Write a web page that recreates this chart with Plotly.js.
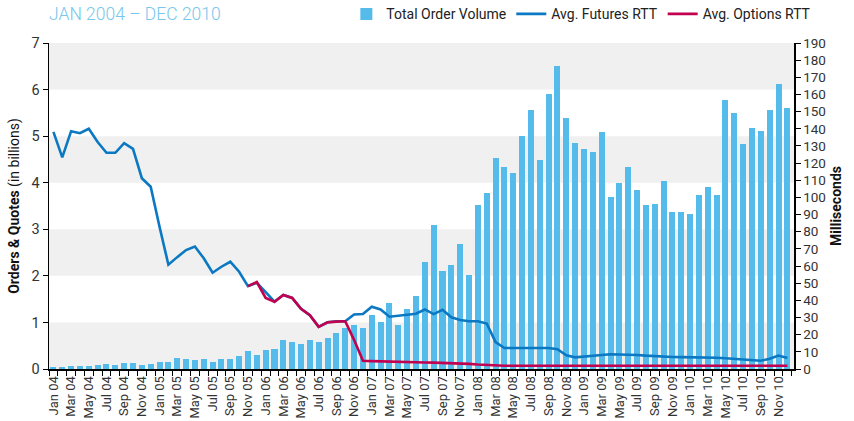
<!DOCTYPE html>
<html>
<head>
<meta charset="utf-8">
<script src="https://cdn.plot.ly/plotly-3.0.1.min.js"></script>
<style>html,body{margin:0;padding:0;background:#fff;}#chart{width:854px;height:421px;}</style>
</head>
<body>
<div id="chart"></div>
<script>
const months = ['Jan','Feb','Mar','Apr','May','Jun','Jul','Aug','Sep','Oct','Nov','Dec'];
const years = ['04','05','06','07','08','09','10'];
const monthLabels = [];
years.forEach(y => months.forEach(m => monthLabels.push(m + ' ' + y)));

const orderVolume = [
  0.04,0.04,0.07,0.07,0.07,0.09,0.11,0.09,0.13,0.13,0.09,0.11,
  0.15,0.15,0.24,0.21,0.19,0.21,0.15,0.21,0.21,0.27,0.38,0.29,
  0.40,0.44,0.63,0.59,0.54,0.63,0.59,0.67,0.78,0.87,0.95,0.87,
  1.17,1.02,1.42,0.95,1.29,1.57,2.30,3.10,2.11,2.24,2.69,2.02,
  3.53,3.78,4.53,4.33,4.21,5.00,5.56,4.48,5.90,6.50,5.38,4.85,
  4.73,4.66,5.09,3.70,4.00,4.34,3.85,3.53,3.55,4.04,3.38,3.38,
  3.33,3.74,3.91,3.74,5.78,5.50,4.84,5.18,5.11,5.57,6.12,5.61
];

const futuresRTT = [
  138.2,123.3,138.6,137.4,140.0,132.3,126.0,126.0,131.6,128.3,111.2,106.2,
  82.9,60.8,65.2,69.3,71.4,64.5,56.1,59.6,62.5,56.7,48.3,50.3,
  44.8,39.2,43.1,41.4,35.1,31.4,24.6,27.2,27.8,27.8,31.8,32.0,
  36.3,34.7,30.5,31.1,31.4,32.2,34.7,32.0,34.5,30.1,28.5,27.8,
  27.8,26.5,15.7,12.2,12.2,12.2,12.2,12.2,12.2,11.5,8.0,6.8,
  7.4,7.8,8.2,8.6,8.6,8.4,8.2,7.8,7.4,7.2,7.0,6.9,
  6.9,6.8,6.8,6.6,6.3,5.9,5.4,5.0,4.8,6.0,7.8,6.4
];

const optionsRTT = [
  null,null,null,null,null,null,null,null,null,null,null,null,
  null,null,null,null,null,null,null,null,null,null,48.3,50.7,
  41.4,39.2,43.1,41.4,35.1,31.4,24.6,27.2,27.6,27.8,17.0,4.8,
  4.6,4.4,4.3,4.1,4.0,3.9,3.8,3.7,3.6,3.5,3.3,3.0,
  2.6,2.3,2.0,1.9,1.9,1.9,1.9,1.9,1.9,1.9,1.9,1.9,
  1.9,1.9,1.9,1.9,1.9,1.9,1.9,1.9,1.9,1.9,1.9,1.9,
  1.9,1.9,1.9,1.9,1.9,1.9,1.9,1.9,1.9,1.9,1.9,1.9
];

const chartTitle = 'JAN 2004 – DEC 2010';

const idx = monthLabels.map((_, i) => i);
const tickIdx = idx.filter(i => i % 2 === 0);
const tickText = tickIdx.map(i => monthLabels[i]);

const FONT = 'Roboto, "Liberation Sans", Arial, sans-serif';

const traces = [
  {
    type: 'bar', name: 'Total Order Volume', x: idx, y: orderVolume,
    width: 0.68, marker: {color: '#55bbea'}, yaxis: 'y', hoverinfo: 'skip'
  },
  {
    type: 'scatter', mode: 'lines', name: 'Avg. Futures RTT', x: idx, y: futuresRTT,
    line: {color: '#0a78c2', width: 2.6}, yaxis: 'y2', hoverinfo: 'skip'
  },
  {
    type: 'scatter', mode: 'lines', name: 'Avg. Options RTT', x: idx, y: optionsRTT,
    line: {color: '#c1004f', width: 2.6}, yaxis: 'y2', connectgaps: false, hoverinfo: 'skip'
  }
];

const bands = [[0,1],[2,3],[4,5],[6,7]].map(b => ({
  type: 'rect', xref: 'paper', yref: 'y', x0: 0, x1: 1, y0: b[0], y1: b[1],
  fillcolor: '#f0f0f0', line: {width: 0}, layer: 'below'
}));

const layout = {
  width: 854, height: 421,
  margin: {l: 49, r: 60, t: 43, b: 52, pad: 0, autoexpand: false},
  paper_bgcolor: '#ffffff', plot_bgcolor: 'rgba(0,0,0,0)',
  font: {family: FONT, color: '#333', size: 13},
  showlegend: true,
  bargap: 0,
  annotations: [{
    text: chartTitle, showarrow: false,
    xref: 'paper', x: 0, xanchor: 'left', align: 'left', xshift: -2,
    yref: 'paper', y: 1 + (43 - 14) / 326, yanchor: 'middle',
    font: {family: 'Roboto', size: 17.5, color: '#79c6ec', weight: 300}
  }],
  legend: {
    orientation: 'h', x: 1.03, xanchor: 'right', y: 1.088, yanchor: 'middle',
    font: {family: FONT, size: 14, color: '#222'}, bgcolor: 'rgba(0,0,0,0)',
    traceorder: 'normal', itemwidth: 30, tracegroupgap: 0
  },
  xaxis: {
    range: [-0.5, 83.75], showgrid: false, zeroline: false,
    showline: true, linecolor: '#000', linewidth: 2,
    tickmode: 'array', tickvals: tickIdx, ticktext: tickText, tickangle: -90,
    ticks: '', tickfont: {family: FONT, size: 13, color: '#333'},
    minor: {tickmode: 'linear', tick0: -0.5, dtick: 1, ticks: 'outside', ticklen: 5, tickcolor: '#000', tickwidth: 1, showgrid: false}
  },
  yaxis: {
    range: [0, 7], dtick: 1, showgrid: false, zeroline: false,
    showline: true, linecolor: '#000', linewidth: 1.5,
    ticks: 'outside', ticklen: 5, tickcolor: '#000',
    tickfont: {family: FONT, size: 14.5, color: '#333'},
    title: {text: '<b>Orders & Quotes</b> (in billions)', font: {family: FONT, size: 14, color: '#111'}, standoff: 8}
  },
  yaxis2: {
    range: [0, 190], dtick: 10, overlaying: 'y', side: 'right', showgrid: false, zeroline: false,
    showline: true, linecolor: '#000', linewidth: 1.5,
    ticks: 'outside', ticklen: 5, tickcolor: '#000',
    tickfont: {family: FONT, size: 13.5, color: '#333'},
    title: {text: '<b>Milliseconds</b>', font: {family: FONT, size: 14, color: '#111'}, standoff: 6}
  },
  shapes: bands
};

Plotly.newPlot('chart', traces, layout, {staticPlot: true, displayModeBar: false});
</script>
</body>
</html>
